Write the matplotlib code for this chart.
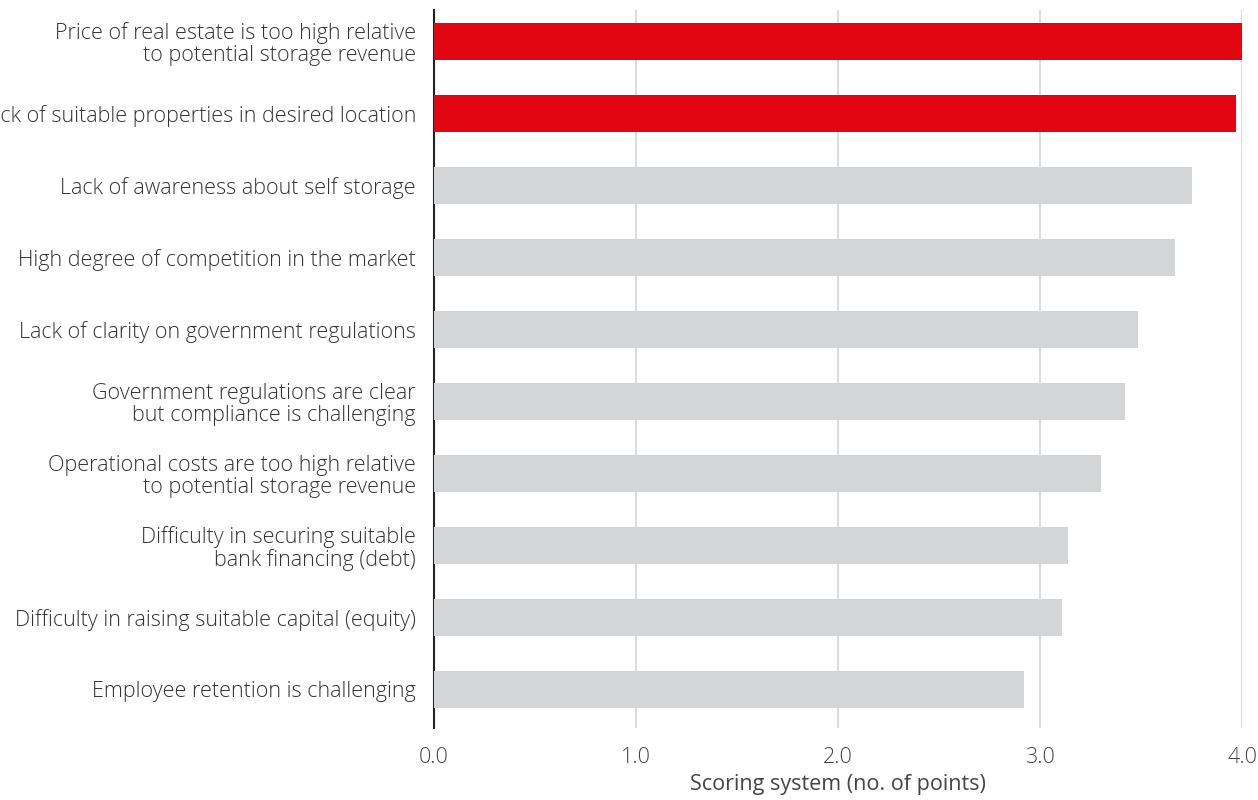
import matplotlib.pyplot as plt

# survey results: average score per barrier
barriers = [
    "Price of real estate is too high relative\nto potential storage revenue",
    "Lack of suitable properties in desired location",
    "Lack of awareness about self storage",
    "High degree of competition in the market",
    "Lack of clarity on government regulations",
    "Government regulations are clear\nbut compliance is challenging",
    "Operational costs are too high relative\nto potential storage revenue",
    "Difficulty in securing suitable\nbank financing (debt)",
    "Difficulty in raising suitable capital (equity)",
    "Employee retention is challenging",
]
scores = [4.00, 3.97, 3.75, 3.67, 3.485, 3.42, 3.30, 3.14, 3.11, 2.92]
highlight = [True, True, False, False, False, False, False, False, False, False]
xticks = [0.0, 1.0, 2.0, 3.0, 4.0]

plt.rcParams['font.family'] = ['Open Sans', 'DejaVu Sans']
plt.rcParams['font.weight'] = 300

fig = plt.figure(figsize=(12.58, 8), dpi=100)
ax = fig.add_axes([434 / 1258, 1 - 728 / 800, (1242 - 434) / 1258, 718 / 800])

ypos = list(range(len(scores)))
colors = ['#e20613' if h else '#d4d5d7' for h in highlight]
ax.barh(ypos, scores, height=0.51, color=colors, zorder=3)

ax.set_xlim(0, 4.0)
ax.set_ylim(len(scores) - 1 + 0.535, -0.4375)
ax.set_yticks(ypos)
ax.set_yticklabels(barriers, fontsize=15.5, color='#333333', linespacing=1.05)
ax.set_xticks(xticks)
ax.set_xticklabels([f"{t:.1f}" for t in xticks], fontsize=15.5, color='#444444')
ax.set_xlabel("Scoring system (no. of points)", fontsize=15.5, color='#444444', labelpad=4)

ax.grid(axis='x', color='#dcdcdc', linewidth=1.5, zorder=0)
ax.tick_params(axis='both', length=0)
ax.tick_params(axis='y', pad=13)
ax.tick_params(axis='x', pad=14)
for side in ['top', 'right', 'bottom']:
    ax.spines[side].set_visible(False)
ax.spines['left'].set_color('#222222')
ax.spines['left'].set_linewidth(1.5)

fig.savefig("out.png", dpi=100)
